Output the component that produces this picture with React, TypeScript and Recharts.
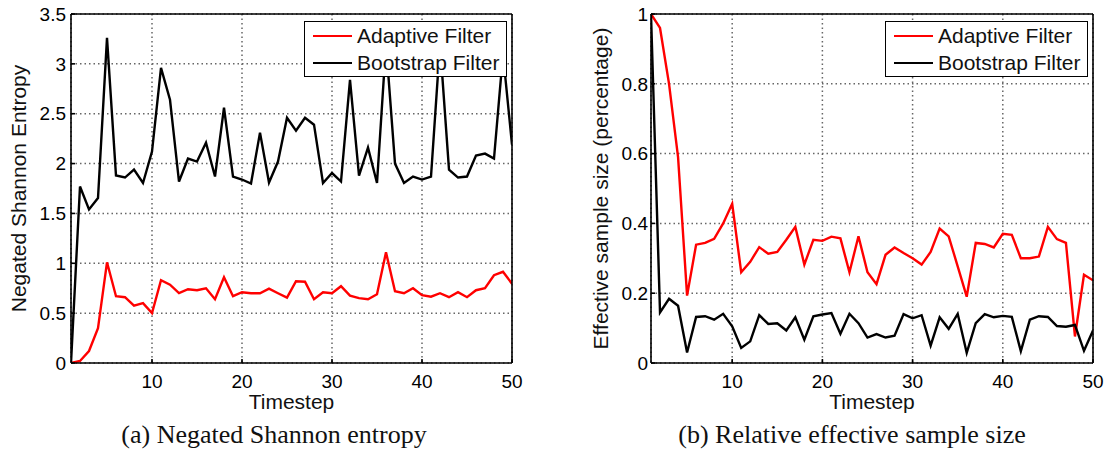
import React from 'react';
import { LineChart, Line, XAxis, YAxis, CartesianGrid, Legend } from 'recharts';

const FONT = '"Liberation Sans", Arial, Helvetica, sans-serif';
const SERIF = '"Liberation Serif", "Times New Roman", serif';

const timesteps = [
  1, 2, 3, 4, 5, 6, 7, 8, 9, 10, 11, 12, 13, 14, 15, 16, 17, 18, 19, 20, 21, 22, 23, 24, 25,
  26, 27, 28, 29, 30, 31, 32, 33, 34, 35, 36, 37, 38, 39, 40, 41, 42, 43, 44, 45, 46, 47, 48, 49, 50,
];
const xTicks = [10, 20, 30, 40, 50];

// (a) negated Shannon entropy
const entropyAdaptive = [
  0, 0.02, 0.12, 0.35, 1.01, 0.67, 0.66, 0.575, 0.6, 0.5,
  0.83, 0.785, 0.7, 0.74, 0.73, 0.75, 0.64, 0.86, 0.67, 0.71,
  0.7, 0.7, 0.745, 0.7, 0.655, 0.82, 0.815, 0.64, 0.71, 0.7,
  0.77, 0.675, 0.65, 0.64, 0.69, 1.11, 0.72, 0.7, 0.75, 0.68,
  0.665, 0.7, 0.66, 0.71, 0.66, 0.73, 0.75, 0.88, 0.915, 0.795,
];
const entropyBootstrap = [
  0, 1.77, 1.54, 1.655, 3.26, 1.88, 1.86, 1.94, 1.805, 2.12,
  2.96, 2.64, 1.82, 2.05, 2.02, 2.21, 1.87, 2.56, 1.87, 1.84,
  1.8, 2.31, 1.81, 2.02, 2.46, 2.33, 2.46, 2.39, 1.805, 1.905,
  1.82, 2.84, 1.88, 2.16, 1.805, 3.2, 2.0, 1.805, 1.87, 1.84,
  1.87, 3.2, 1.94, 1.86, 1.87, 2.08, 2.1, 2.05, 3.1, 2.19,
];
const entropyTicks = [0, 0.5, 1, 1.5, 2, 2.5, 3, 3.5];

// (b) relative effective sample size
const essAdaptive = [
  1.0, 0.96, 0.8, 0.59, 0.193, 0.339, 0.344, 0.356, 0.4, 0.456,
  0.26, 0.29, 0.332, 0.313, 0.318, 0.353, 0.39, 0.282, 0.353, 0.35,
  0.362, 0.357, 0.26, 0.363, 0.26, 0.226, 0.31, 0.331, 0.315, 0.3,
  0.282, 0.318, 0.385, 0.363, 0.277, 0.19, 0.344, 0.341, 0.331, 0.37,
  0.367, 0.3, 0.3, 0.305, 0.39, 0.355, 0.344, 0.076, 0.253, 0.237,
];
const essBootstrap = [
  1.0, 0.145, 0.184, 0.164, 0.03, 0.132, 0.134, 0.124, 0.141, 0.105,
  0.043, 0.062, 0.137, 0.112, 0.114, 0.093, 0.131, 0.067, 0.134, 0.139,
  0.143, 0.084, 0.141, 0.114, 0.073, 0.083, 0.073, 0.078, 0.14, 0.128,
  0.137, 0.05, 0.131, 0.098, 0.141, 0.029, 0.114, 0.14, 0.131, 0.135,
  0.132, 0.034, 0.124, 0.134, 0.132, 0.106, 0.104, 0.109, 0.035, 0.093,
];
const essTicks = [0, 0.2, 0.4, 0.6, 0.8, 1];

const entropyData = timesteps.map((t, i) => ({ t, adaptive: entropyAdaptive[i], bootstrap: entropyBootstrap[i] }));
const essData = timesteps.map((t, i) => ({ t, adaptive: essAdaptive[i], bootstrap: essBootstrap[i] }));

const tickStyle = { fill: '#000', fontSize: 19, fontFamily: FONT };
const axisStroke = { stroke: '#000', strokeWidth: 1.6 };

const LegendBox = () => (
  <div style={{
    border: '1px solid #000',
    background: '#fff',
    height: 56,
    boxSizing: 'border-box',
    fontFamily: FONT,
    fontSize: 21,
    color: '#111',
  }}>
    {[{ name: 'Adaptive Filter', color: '#ff0000' }, { name: 'Bootstrap Filter', color: '#000' }].map((r) => (
      <div key={r.name} style={{ display: 'flex', alignItems: 'center', height: 27 }}>
        <span style={{ display: 'inline-block', marginLeft: 8, width: 39, height: 2, background: r.color }} />
        <span style={{ marginLeft: 5, lineHeight: '27px' }}>{r.name}</span>
      </div>
    ))}
  </div>
);

const xTitle = (props: any) => {
  const vb = props.viewBox || {};
  return (
    <text x={vb.x + vb.width / 2} y={vb.y + 46} textAnchor="middle" fontSize={21} fontFamily={FONT} fill="#111">
      Timestep
    </text>
  );
};

const yTitle = (text: string, dx: number) => (props: any) => {
  const vb = props.viewBox || {};
  const cx = vb.x + dx;
  const cy = vb.y + vb.height / 2;
  return (
    <text x={cx} y={cy} transform={`rotate(-90, ${cx}, ${cy})`} textAnchor="middle" dominantBaseline="central"
      fontSize={21} fontFamily={FONT} fill="#111">
      {text}
    </text>
  );
};

type PanelProps = {
  data: any[];
  width: number;
  yWidth: number;
  right: number;
  yMax: number;
  yTicks: number[];
  yLabel: string;
  yLabelX: number;
  labelGap: number;
  legendLeft: number;
};

const Panel: React.FC<PanelProps> = ({ data, width, yWidth, right, yMax, yTicks, yLabel, yLabelX, labelGap, legendLeft }) => (
  <LineChart width={width} height={420} data={data} margin={{ top: 13, right, bottom: 0, left: 0 }}>
    <CartesianGrid stroke="#666" strokeWidth={1.5} strokeDasharray="1.5 3" />
    <XAxis
      dataKey="t"
      type="number"
      domain={[1, 50]}
      ticks={xTicks}
      interval={0}
      allowDataOverflow
      height={57}
      tickSize={-4}
      tickMargin={16}
      tick={tickStyle}
      axisLine={axisStroke}
      tickLine={axisStroke}
      label={xTitle}
    />
    <XAxis xAxisId="top" orientation="top" type="number" domain={[1, 50]} ticks={xTicks} interval={0}
      height={1} tick={false} tickSize={-4} axisLine={axisStroke} tickLine={axisStroke} />
    <YAxis
      type="number"
      domain={[0, yMax]}
      ticks={yTicks}
      interval={0}
      allowDataOverflow
      width={yWidth}
      tickSize={-4}
      tickMargin={4 + labelGap}
      tick={tickStyle}
      axisLine={axisStroke}
      tickLine={axisStroke}
      label={yTitle(yLabel, yLabelX)}
    />
    <YAxis yAxisId="right" orientation="right" type="number" domain={[0, yMax]} ticks={yTicks} interval={0}
      width={1} tick={false} tickSize={-4} axisLine={axisStroke} tickLine={axisStroke} />
    <Line type="linear" dataKey="adaptive" name="Adaptive Filter" stroke="#ff0000" strokeWidth={2.4} dot={false} isAnimationActive={false} />
    <Line type="linear" dataKey="bootstrap" name="Bootstrap Filter" stroke="#000" strokeWidth={2.4} dot={false} isAnimationActive={false} />
    <Legend layout="vertical" align="center" verticalAlign="middle"
      wrapperStyle={{ top: 21, left: legendLeft, width: 203 }} content={() => <LegendBox />} />
  </LineChart>
);

const captionStyle: React.CSSProperties = {
  position: 'absolute',
  top: 422,
  height: 26,
  lineHeight: '26px',
  textAlign: 'center',
  fontFamily: SERIF,
  fontSize: 26,
  color: '#111',
  whiteSpace: 'nowrap',
};

export default function App() {
  return (
    <div style={{ position: 'absolute', left: 0, top: 0, width: 1113, height: 457, background: '#fff', overflow: 'hidden' }}>
      <div style={{ position: 'absolute', left: 0, top: 0 }}>
        <Panel data={entropyData} width={530} yWidth={71} right={17} yMax={3.5} yTicks={entropyTicks}
          yLabel="Negated Shannon Entropy" yLabelX={18} labelGap={5} legendLeft={304} />
      </div>
      <div style={{ position: 'absolute', left: 556, top: 0 }}>
        <Panel data={essData} width={557} yWidth={95} right={19} yMax={1} yTicks={essTicks}
          yLabel="Effective sample size (percentage)" yLabelX={44} labelGap={3} legendLeft={329} />
      </div>
      <div style={{ ...captionStyle, left: 0, width: 548 }}>(a) Negated Shannon entropy</div>
      <div style={{ ...captionStyle, left: 600, width: 504 }}>(b) Relative effective sample size</div>
    </div>
  );
}
